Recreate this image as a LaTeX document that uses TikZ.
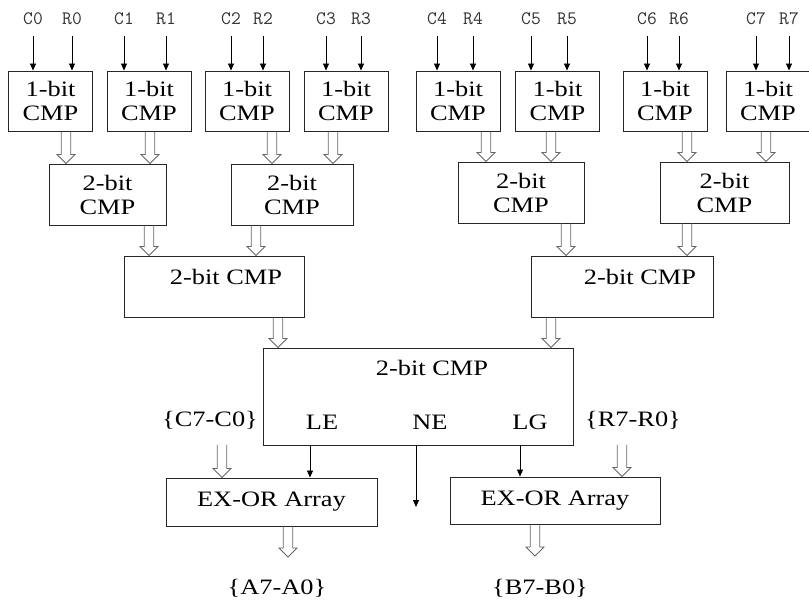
\documentclass[tikz,border=0pt]{standalone}
\usepackage{fontspec}
\setmainfont{Liberation Serif}[FakeStretch=1.2]
\usetikzlibrary{arrows.meta,calc}

\tikzset{
    cmp/.style={draw=black!85, line width=0.9pt, inner sep=0pt, align=center,
        font=\fontsize{22}{24}\selectfont},
    pin/.style={font=\ttfamily\fontsize{19}{19}\selectfont, text=black!80, inner sep=2pt},
    txt/.style={font=\fontsize{22}{24}\selectfont, inner sep=2pt},
    sig/.style={-{Triangle[length=7pt,width=6pt]}, line width=0.8pt},
    bus/.style={draw=black!60, line width=0.8pt, to path={
        let \p1=(\tikztostart), \p2=(\tikztotarget) in
        (\x1-4.8pt,\y1) -- (\x1-4.8pt,\y2+9pt) -- (\x1-9pt,\y2+9pt) -- (\x1,\y2)
        -- (\x1+9pt,\y2+9pt) -- (\x1+4.8pt,\y2+9pt) -- (\x1+4.8pt,\y1)}}
}

\begin{document}
\begin{tikzpicture}[x=1pt,y=-1pt]
\useasboundingbox (0,0) rectangle (809,602);

% 1-bit comparators and their inputs
\foreach \i/\xc/\xa/\xb in {0/50.5/33/72,1/149/124/166,2/247/231/263,3/346/326/361,
        4/458/437/473,5/557.5/531/567,6/665/647/679,7/768/756/789}
{
    \node[cmp, minimum width=84pt, minimum height=60pt] (b\i) at (\xc,101) {1-bit\\CMP};
    \node[pin] (c\i) at (\xa,19) {C\i};
    \node[pin] (r\i) at (\xb,19) {R\i};
    \draw[sig, shorten <=9pt] (c\i.south) -- (c\i.south |- b\i.north);
    \draw[sig, shorten <=9pt] (r\i.south) -- (r\i.south |- b\i.north);
}

% 2-bit comparators
\node[cmp, minimum width=117pt, minimum height=61pt] (m0) at (107.5,194.5) {2-bit\\CMP};
\node[cmp, minimum width=122pt, minimum height=61pt] (m1) at (292,194.5) {2-bit\\CMP};
\node[cmp, minimum width=126pt, minimum height=61pt] (m2) at (521,192.5) {2-bit\\CMP};
\node[cmp, minimum width=129pt, minimum height=61pt] (m3) at (724.5,192.5) {2-bit\\CMP};

\foreach \s/\d/\t in {b0/15.5/m0,b1/1/m0,b2/25/m1,b3/-13/m1,
        b4/28/m2,b5/-6.5/m2,b6/22/m3,b7/-2/m3}
    \draw[bus] ([xshift=\d pt]\s.south) to (\t.north);

\node[cmp, minimum width=180pt, minimum height=61pt] (h0) at (214,286.5) {};
\node[txt] (h0t) at ([xshift=12pt,yshift=-21pt]h0.north) {2-bit CMP};
\node[cmp, minimum width=182pt, minimum height=61pt] (h1) at (622,286.5) {};
\node[txt] (h1t) at ([xshift=18pt,yshift=-21pt]h1.north) {2-bit CMP};

\foreach \s/\d/\t in {m0/41.5/h0,m1/-36/h0,m2/45/h1,m3/-37.5/h1}
    \draw[bus] ([xshift=\d pt]\s.south) to (\t.north);

% last stage
\node[cmp, minimum width=310pt, minimum height=97pt] (g) at (418,396.5) {};
\node[txt] (gt) at ([xshift=14pt,yshift=-20pt]g.north) {2-bit CMP};
\node[txt] (le) at (322,422) {LE};
\node[txt] (ne) at (430,422) {NE};
\node[txt] (lg) at (530,422) {LG};

\draw[bus] ([xshift=64pt]h0.south) to (g.north);
\draw[bus] ([xshift=-71pt]h1.south) to (g.north);

\node[cmp, minimum width=211pt, minimum height=48pt] (x0) at (271.5,502) {EX-OR Array};
\node[cmp, minimum width=210pt, minimum height=47pt] (x1) at (555,500.5) {EX-OR Array};

\node[txt] (cbus) at (210,420) {\{C7-C0\}};
\node[txt] (rbus) at (633,420) {\{R7-R0\}};
\node[txt] (abus) at (277,588) {\{A7-A0\}};
\node[txt] (bbus) at (540,588) {\{B7-B0\}};

\coordinate (leo) at ([xshift=-108pt]g.south);
\coordinate (neo) at ([xshift=-2pt]g.south);
\coordinate (ne1) at (416,507);
\coordinate (lgo) at ([xshift=102pt]g.south);

\draw[sig] (leo) -- (leo |- x0.north);
\draw[sig] (neo) -- (ne1);
\draw[sig] (lgo) -- (lgo |- x1.north);

\draw[bus] ([shift={(12,25)}]cbus.center) to (x0.north);
\draw[bus] ([shift={(-11,25)}]rbus.center) to (x1.north);
\draw[bus] ([xshift=16.5pt]x0.south) to ([yshift=31pt]abus.center);
\draw[bus] ([xshift=-20pt]x1.south) to ([yshift=32pt]bbus.center);
\end{tikzpicture}
\end{document}
